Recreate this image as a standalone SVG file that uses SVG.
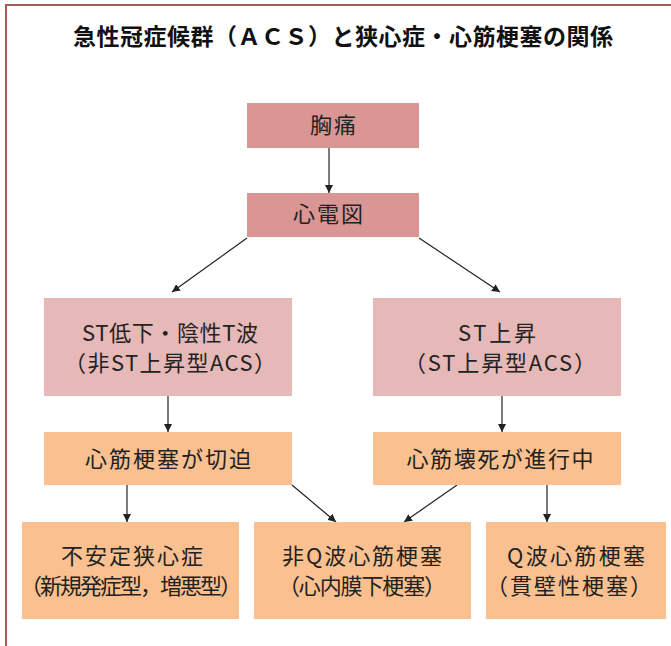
<svg xmlns="http://www.w3.org/2000/svg" width="671" height="646" viewBox="0 0 671 646">
<defs>
<marker id="arr" markerUnits="userSpaceOnUse" markerWidth="8" markerHeight="8" refX="8" refY="4" orient="auto">
<path d="M0,0 L8,4 L0,8 z" fill="#222"/>
</marker>
<style>
.t{font-family:"Noto Sans CJK JP","Noto Sans",sans-serif;font-size:22px;fill:#222;text-anchor:middle}
.title{font-family:"Noto Sans CJK JP","Noto Sans",sans-serif;font-size:23px;font-weight:bold;fill:#111;text-anchor:middle}
.dk{fill:#d99694}
.pk{fill:#e6b9b8}
.or{fill:#fac08f}
.c{stroke:#222;stroke-width:1.2;fill:none;marker-end:url(#arr)}
</style>
</defs>
<rect width="671" height="646" fill="#fff"/>
<rect x="6" y="5" width="720" height="720" fill="none" stroke="#a35b5b" stroke-width="2"/>
<text class="title" x="343" y="45" textLength="540">急性冠症候群（ＡＣＳ）と狭心症・心筋梗塞の関係</text>
<g id="connectors">
<line class="c" x1="329" y1="148" x2="329" y2="193"/>
<line class="c" x1="247" y1="238" x2="172" y2="292"/>
<line class="c" x1="419" y1="238" x2="500" y2="292"/>
<line class="c" x1="168" y1="396" x2="168" y2="432"/>
<line class="c" x1="502" y1="396" x2="502" y2="432"/>
<line class="c" x1="127" y1="485" x2="127" y2="522"/>
<line class="c" x1="292" y1="485" x2="336" y2="522"/>
<line class="c" x1="457" y1="485" x2="404" y2="522"/>
<line class="c" x1="547" y1="485" x2="547" y2="522"/>
</g>
<g id="n1"><rect class="dk" x="247" y="103" width="172" height="45"/><text class="t" x="333" y="133" textLength="46">胸痛</text></g>
<g id="n2"><rect class="dk" x="247" y="193" width="172" height="44"/><text class="t" x="328" y="222" textLength="70">心電図</text></g>
<g id="n3"><rect class="pk" x="44" y="298" width="248" height="98"/><text class="t" x="170" y="341" textLength="176">ST低下・陰性T波</text><text class="t" x="170" y="371" textLength="212">（非ST上昇型ACS）</text></g>
<g id="n4"><rect class="pk" x="373" y="298" width="248" height="98"/><text class="t" x="497" y="341" textLength="78">ST上昇</text><text class="t" x="500" y="371" textLength="192">（ST上昇型ACS）</text></g>
<g id="n5"><rect class="or" x="44" y="432" width="248" height="53"/><text class="t" x="168" y="467" textLength="166">心筋梗塞が切迫</text></g>
<g id="n6"><rect class="or" x="373" y="432" width="248" height="53"/><text class="t" x="500" y="467" textLength="187">心筋壊死が進行中</text></g>
<g id="n7"><rect class="or" x="22" y="522" width="217" height="97"/><text class="t" x="132" y="564" textLength="142">不安定狭心症</text><text class="t" x="131" y="594" textLength="222">（新規発症型，増悪型）</text></g>
<g id="n8"><rect class="or" x="254" y="522" width="217" height="97"/><text class="t" x="362" y="564" textLength="160">非Q波心筋梗塞</text><text class="t" x="362" y="594" textLength="168">（心内膜下梗塞）</text></g>
<g id="n9"><rect class="or" x="486" y="522" width="180" height="97"/><text class="t" x="576" y="564" textLength="138">Q波心筋梗塞</text><text class="t" x="569" y="594" textLength="166">（貫壁性梗塞）</text></g>
</svg>
